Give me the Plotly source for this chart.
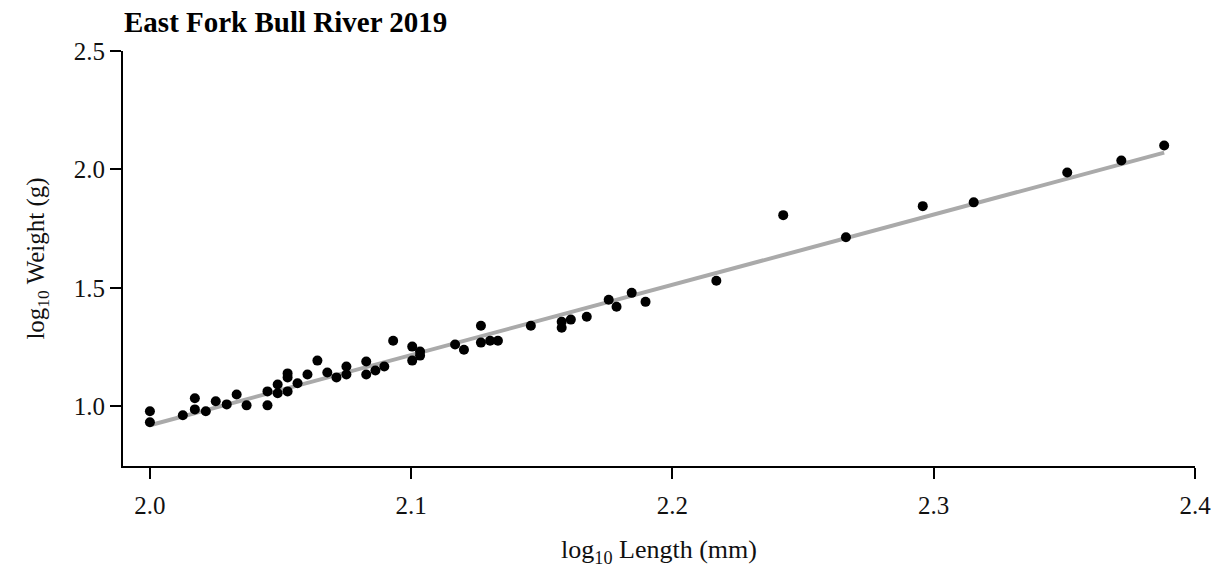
import plotly.graph_objects as go

log_length = [2.000, 2.000, 2.0126, 2.0172, 2.0172, 2.0214, 2.0252, 2.0294, 2.0332, 2.0370,
              2.0450, 2.0450, 2.0489, 2.0489, 2.0527, 2.0527, 2.0527, 2.0565, 2.0603, 2.0641,
              2.0679, 2.0714, 2.0752, 2.0752, 2.0828, 2.0828, 2.0863, 2.0897, 2.0931, 2.1004,
              2.1004, 2.1034, 2.1034, 2.1168, 2.1202, 2.1267, 2.1267, 2.1302, 2.1332, 2.1458,
              2.1576, 2.1576, 2.1611, 2.1672, 2.1756, 2.1786, 2.1844, 2.1897, 2.2168, 2.2424,
              2.2664, 2.2958, 2.3153, 2.3511, 2.3718, 2.3882]
log_weight = [0.979, 0.933, 0.962, 1.034, 0.987, 0.979, 1.021, 1.008, 1.050, 1.004,
              1.063, 1.004, 1.092, 1.055, 1.139, 1.122, 1.063, 1.097, 1.134, 1.193,
              1.143, 1.122, 1.168, 1.134, 1.189, 1.134, 1.151, 1.168, 1.277, 1.252,
              1.193, 1.231, 1.214, 1.261, 1.239, 1.340, 1.269, 1.277, 1.277, 1.340,
              1.357, 1.332, 1.366, 1.378, 1.450, 1.420, 1.479, 1.441, 1.530, 1.807,
              1.714, 1.845, 1.861, 1.987, 2.038, 2.101]

# fitted line endpoints
fit_x = [2.000, 2.3882]
fit_y = [0.920, 2.071]

x_ticks = [2.0, 2.1, 2.2, 2.3, 2.4]
y_ticks = [1.0, 1.5, 2.0, 2.5]

FONT = "Liberation Serif"

fig = go.Figure()
fig.add_trace(go.Scatter(x=fit_x, y=fit_y, mode="lines",
                         line=dict(color="#aaaaaa", width=4), showlegend=False,
                         hoverinfo="skip"))
fig.add_trace(go.Scatter(x=log_length, y=log_weight, mode="markers",
                         marker=dict(color="black", size=10), showlegend=False))

axis_common = dict(showline=True, linecolor="black", linewidth=2, ticks="outside",
                   ticklen=11, tickwidth=2, tickcolor="black", showgrid=False,
                   zeroline=False, mirror=False,
                   tickfont=dict(family=FONT, size=25, color="#111"))

fig.update_layout(
    width=1223, height=571,
    margin=dict(l=123, r=26, t=51, b=103),
    paper_bgcolor="white", plot_bgcolor="white",
    title=dict(text="<b>East Fork Bull River 2019</b>", x=124/1223, xanchor="left",
               y=1 - 22/571, yanchor="middle",
               font=dict(family=FONT, size=29, color="black")),
    xaxis=dict(range=[1.9897, 2.4], tickvals=x_ticks, tickformat=".1f",
               ticklabelstandoff=5,
               title=dict(text="log<sub>10</sub> Length (mm)", standoff=22,
                          font=dict(family=FONT, size=26, color="#111")),
               **axis_common),
    yaxis=dict(range=[0.748, 2.5], tickvals=y_ticks, tickformat=".1f",
               title=dict(text="log<sub>10</sub> Weight (g)", standoff=22,
                          font=dict(family=FONT, size=25, color="#111")),
               **axis_common),
)

fig.write_html("out.html")
